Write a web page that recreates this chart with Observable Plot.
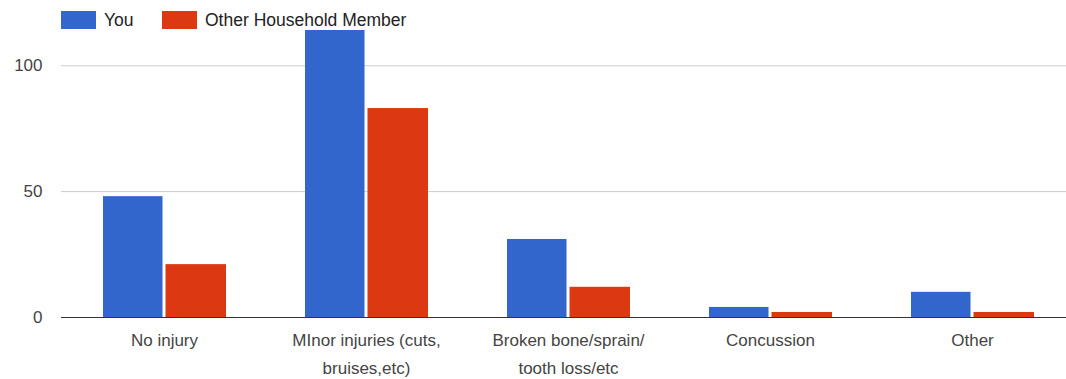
<!DOCTYPE html>
<html>
<head>
<meta charset="utf-8">
<script src="https://cdn.jsdelivr.net/npm/d3@7"></script>
<script src="https://cdn.jsdelivr.net/npm/@observablehq/plot@0.6"></script>
<style>
  html, body { margin: 0; padding: 0; background: #fff; }
  #wrap { width: 1066px; font-family: "Liberation Sans", Arial, sans-serif; }
  #legend { position: relative; height: 30px; font-size: 17.5px; color: #222; }
  #legend .sw { position: absolute; top: 11px; width: 35px; height: 18px; }
  #legend .lb { position: absolute; top: 10px; line-height: 20px; white-space: nowrap; }
</style>
</head>
<body>
<div id="wrap">
  <div id="legend"></div>
  <div id="chart"></div>
</div>
<script>
const categories = ["No injury", "MInor injuries (cuts,\nbruises,etc)", "Broken bone/sprain/\ntooth loss/etc", "Concussion", "Other"];
const series = ["You", "Other Household Member"];
const youValues = [48, 114, 31, 4, 10];
const otherValues = [21, 83, 12, 2, 2];
const yTicks = [0, 50, 100];
const colors = ["#3366cc", "#dc3912"];

const youData = categories.map((c, i) => ({category: c, series: series[0], value: youValues[i]}));
const otherData = categories.map((c, i) => ({category: c, series: series[1], value: otherValues[i]}));

// Legend
const legend = document.getElementById("legend");
const legendPos = [{sw: 61, lb: 104}, {sw: 162, lb: 205}];
series.forEach((s, i) => {
  const sw = document.createElement("div");
  sw.className = "sw";
  sw.style.left = legendPos[i].sw + "px";
  sw.style.background = colors[i];
  legend.appendChild(sw);
  const lb = document.createElement("div");
  lb.className = "lb";
  lb.style.left = legendPos[i].lb + "px";
  lb.textContent = s;
  legend.appendChild(lb);
});

const chart = Plot.plot({
  width: 1066,
  height: 349,
  marginTop: 0,
  marginLeft: 61,
  marginRight: 0,
  marginBottom: 62,
  style: {fontFamily: "Liberation Sans, Arial, sans-serif", background: "#fff"},
  x: {domain: categories, range: [61.25, 1073.75], padding: 0},
  y: {domain: [0, 114]},
  color: {domain: series, range: colors},
  marks: [
    Plot.ruleY(yTicks.filter(d => d > 0), {stroke: "#cccccc", strokeWidth: 1}),
    Plot.barY(youData, {x: "category", y: "value", fill: "series", insetLeft: 40, insetRight: 102.5}),
    Plot.barY(otherData, {x: "category", y: "value", fill: "series", insetLeft: 102.5, insetRight: 39}),
    Plot.ruleY([0], {stroke: "#333", strokeWidth: 1.2}),
    Plot.axisY({ticks: yTicks, tickSize: 0, tickPadding: 19, fontSize: 17, fill: "#444", label: null}),
    Plot.axisX({tickSize: 0, tickPadding: 9, fontSize: 17, lineHeight: 1.62, fill: "#444", label: null})
  ]
});
document.getElementById("chart").appendChild(chart);
</script>
</body>
</html>
